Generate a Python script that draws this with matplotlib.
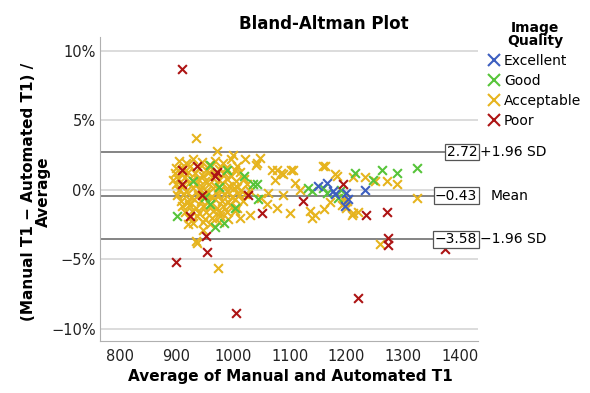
import matplotlib
matplotlib.use("Agg")
import matplotlib.pyplot as plt
from matplotlib.lines import Line2D

# limits of agreement (%)
upper_loa = 2.72
mean_diff = -0.43
lower_loa = -3.58

x_ticks = [800, 900, 1000, 1100, 1200, 1300, 1400]
y_ticks = [-10, -5, 0, 5, 10]
y_tick_labels = ["−10%", "−5%", "0%", "5%", "10%"]

categories = ["Excellent", "Good", "Acceptable", "Poor"]
colors = ["#3d5fc0", "#57c43a", "#e6b41e", "#ad1414"]

# (average T1, % difference)
excellent_pts = [(1166, 0.5), (1176, -0.1), (1233, 0.0), (1197, -1.2), (1203, -0.7),
                 (1150, 0.3), (1180, -0.3), (1200, -0.2)]

good_pts = [(1325, 1.6), (1289, 1.2), (1263, 1.4), (1215, 1.2), (1247, 0.7),
            (1132, 0.1), (1159, 0.1), (1185, -0.6), (1190, 0.0), (1140, -0.1),
            (1165, -0.2), (1042, 0.4), (1044, -0.7), (902, -1.9), (968, -2.7),
            (985, -2.4), (1003, -1.3), (1035, 0.4), (989, 1.4), (959, 1.8),
            (1020, 1.0), (950, -0.5), (930, 0.6), (975, 0.2), (960, -1.0)]

acceptable_pts = [
    # spread outside the main cluster
    (934, 3.7), (973, -5.6), (934, -3.7), (947, -2.9), (1042, 1.9), (1077, 1.4),
    (1088, 1.1), (1103, 1.4), (1162, 1.7), (1074, 0.7), (1109, 0.5), (1180, 1.1),
    (1118, 0.0), (1062, -0.2), (1088, -0.4), (1100, -1.7), (1136, -1.5), (1171, -0.9),
    (1325, -0.6), (1212, 0.9), (1233, 0.9), (1251, 0.6), (1272, 0.6), (1212, -1.7),
    (1201, -0.8), (1260, -3.9), (1106, 1.4), (1159, 1.7), (1183, 1.0), (1145, -1.8),
    (1140, -2.0), (1210, -1.8), (1197, -0.9), (1192, -1.1), (1200, -1.3), (1195, -0.6),
    (971, 2.8), (1000, 2.5), (1021, 2.2), (1040, 1.8), (1068, 1.4), (1085, 1.2),
    (920, -2.5), (936, -3.8), (1012, -2.0), (1030, -1.8), (894, 0.7), (1050, -0.6),
    (1060, -1.0), (1078, -1.3), (1160, -1.4), (1048, 2.3), (1220, -1.6), (1290, 0.4),
    # dense cluster
    (905, 2.1), (918, 1.9), (930, 2.2), (945, 2.0), (958, 1.8), (968, 2.1), (982, 1.9),
    (996, 2.2), (1008, 1.7),
    (900, 1.6), (912, 1.5), (925, 1.7), (940, 1.6), (952, 1.4), (962, 1.7), (975, 1.5),
    (988, 1.6), (1003, 1.4),
    (898, 1.2), (908, 1.1), (921, 1.3), (933, 1.2), (947, 1.0), (957, 1.3), (970, 1.1),
    (985, 1.2), (996, 1.0), (1012, 1.3),
    (903, 0.8), (915, 0.9), (927, 0.7), (939, 0.8), (950, 0.6), (963, 0.9), (976, 0.7),
    (990, 0.8), (1005, 0.6), (1020, 0.8),
    (900, 0.4), (911, 0.3), (923, 0.5), (935, 0.4), (946, 0.2), (958, 0.4), (969, 0.3),
    (981, 0.5), (993, 0.3), (1007, 0.2), (1025, 0.4),
    (905, 0.0), (917, -0.1), (929, 0.1), (941, 0.0), (953, -0.1), (965, 0.1), (977, 0.0),
    (989, -0.1), (1001, 0.1), (1015, 0.0), (1030, -0.1),
    (902, -0.4), (914, -0.3), (926, -0.5), (938, -0.4), (950, -0.3), (962, -0.5),
    (974, -0.4), (986, -0.3), (998, -0.5), (1010, -0.4), (1022, -0.3),
    (908, -0.8), (920, -0.9), (932, -0.7), (944, -0.8), (956, -0.9), (968, -0.7),
    (980, -0.8), (992, -0.9), (1004, -0.7), (1018, -0.8),
    (911, -1.2), (923, -1.1), (935, -1.3), (947, -1.2), (959, -1.1), (971, -1.3),
    (983, -1.2), (995, -1.1), (1008, -1.3),
    (915, -1.6), (928, -1.5), (940, -1.7), (952, -1.6), (965, -1.5), (978, -1.7),
    (990, -1.6), (1003, -1.5),
    (922, -2.0), (936, -1.9), (950, -2.1), (963, -2.0), (978, -1.9), (992, -2.1),
    (930, -2.4), (948, -2.3), (960, -2.5), (975, -2.3),
]

poor_pts = [(911, 8.7), (899, -5.2), (1005, -8.9), (1220, -7.8), (1374, -4.3),
            (1273, -3.5), (1273, -4.0), (1272, -1.6), (1235, -1.8), (1123, -0.8),
            (1194, 0.4), (911, 1.4), (936, 1.7), (971, 1.3), (968, 1.0), (911, 0.4),
            (945, -0.4), (1026, -0.4), (1051, -1.7), (924, -1.9), (952, -3.3),
            (954, -4.5)]

all_pts = [excellent_pts, good_pts, acceptable_pts, poor_pts]

fig = plt.figure(figsize=(5.9, 3.93), dpi=100)
ax = fig.add_axes([0.169, 0.132, 0.641, 0.774])

for yt in y_ticks:
    ax.axhline(yt, color="#d6d6d6", lw=1.2, zorder=0)

# draw acceptable first so the others sit on top, like the original
for idx in [2, 1, 0, 3]:
    xs = [p[0] for p in all_pts[idx]]
    ys = [p[1] for p in all_pts[idx]]
    ax.scatter(xs, ys, marker="x", s=40, linewidths=1.5, color=colors[idx], zorder=3)

for val, side in [(upper_loa, "+1.96 SD"), (mean_diff, "Mean"), (lower_loa, "−1.96 SD")]:
    ax.axhline(val, color="#707070", lw=1.2, zorder=2)
    ax.text(0.998, val, "%.2f" % val if val > 0 else "−%.2f" % abs(val),
            transform=ax.get_yaxis_transform(), ha="right", va="center", fontsize=10,
            bbox=dict(boxstyle="square,pad=0.1", fc="white", ec="#555555", lw=0.9),
            zorder=5, clip_on=False)
    xoff = 1.034 if side == "Mean" else 1.005
    ax.text(xoff, val, side, transform=ax.get_yaxis_transform(), ha="left",
            va="center", fontsize=10, clip_on=False)

ax.set_xlim(765, 1432)
ax.set_ylim(-10.9, 11.0)
ax.set_xticks(x_ticks)
ax.set_yticks(y_ticks)
ax.set_yticklabels(y_tick_labels)
ax.tick_params(length=0, labelsize=10.5, colors="#222222")
ax.tick_params(axis="x", pad=6)
ax.tick_params(axis="y", pad=3)

for s in ["top", "right"]:
    ax.spines[s].set_visible(False)
for s in ["left", "bottom"]:
    ax.spines[s].set_color("#b0b0b0")

fig.text(0.548, 0.939, "Bland-Altman Plot", ha="center", va="center",
         fontsize=12, fontweight="bold")
fig.text(0.061, 0.511, "(Manual T1 − Automated T1) /\nAverage", rotation=90,
         ha="center", va="center", fontsize=11, fontweight="bold",
         multialignment="center", linespacing=1.0)
fig.text(0.492, 0.041, "Average of Manual and Automated T1", ha="center",
         va="center", fontsize=11, fontweight="bold")

handles = [Line2D([], [], marker="x", ls="none", color=c, markersize=8, mew=1.5)
           for c in colors]
leg = fig.legend(handles, categories, title="Image\nQuality", loc="upper left",
                 bbox_to_anchor=(0.82, 0.96), frameon=False, fontsize=10,
                 handlelength=0.7, handletextpad=0.35, labelspacing=0.42,
                 borderaxespad=0, alignment="center")
leg.get_title().set_fontweight("bold")
leg.get_title().set_fontsize(10)
leg.get_title().set_linespacing(0.9)
leg.get_title().set_multialignment("center")

fig.savefig("out.png", dpi=100)
